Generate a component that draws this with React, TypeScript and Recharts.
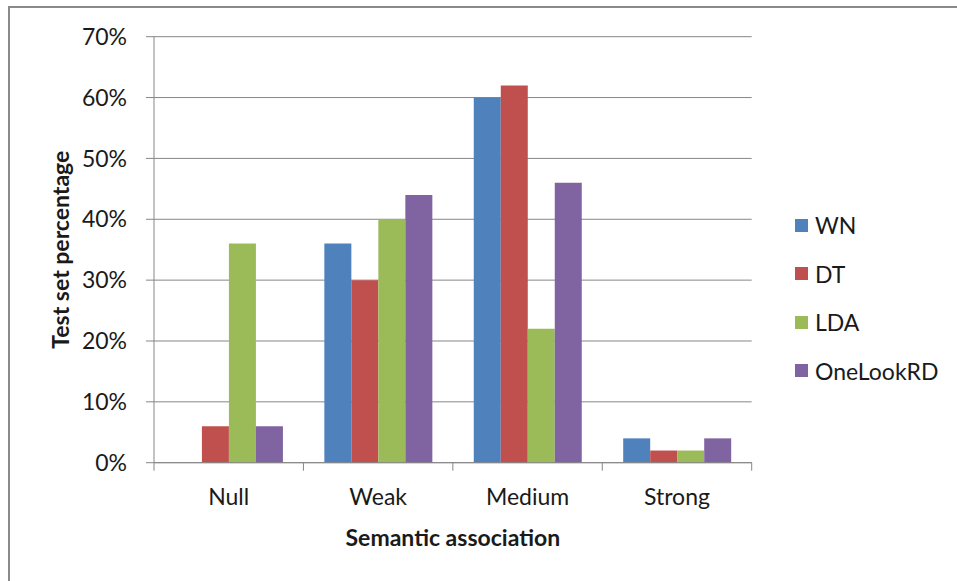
import React from 'react';
import { BarChart, Bar, XAxis, YAxis, CartesianGrid, Legend, Label } from 'recharts';

const categories = ['Null', 'Weak', 'Medium', 'Strong'];
const wnValues = [0, 36, 60, 4];
const dtValues = [6, 30, 62, 2];
const ldaValues = [36, 40, 22, 2];
const oneLookValues = [6, 44, 46, 4];
const yTicks = [0, 10, 20, 30, 40, 50, 60, 70];
const seriesNames = ['WN', 'DT', 'LDA', 'OneLookRD'];
const seriesColors = ['#4F81BD', '#C0504D', '#9BBB59', '#8064A2'];
const xTitle = 'Semantic association';
const yTitle = 'Test set percentage';

const data = categories.map((c, i) => ({
  category: c,
  WN: wnValues[i],
  DT: dtValues[i],
  LDA: ldaValues[i],
  OneLookRD: oneLookValues[i],
}));

const W = 957;
const H = 581;
const PLOT_LEFT = 154;
const PLOT_RIGHT = 751.7;
const PLOT_TOP = 36.7;
const PLOT_BOTTOM = 462.7;
const XAXIS_H = 60;
const BAND = (PLOT_RIGHT - PLOT_LEFT) / categories.length;
const FONT = "Lato, 'Open Sans', sans-serif";
const TEXT = '#1a1a1a';
const AXIS = '#878787';
const FS = 23;

const XTick = (props: any) => {
  const { x, y, payload } = props;
  const left = x - BAND / 2;
  const isLast = payload.value === categories[categories.length - 1];
  return (
    <g>
      <line x1={left} x2={left} y1={y} y2={y + 8} stroke={AXIS} />
      {isLast && <line x1={x + BAND / 2} x2={x + BAND / 2} y1={y} y2={y + 8} stroke={AXIS} />}
      <text x={x} y={y + 26} dy="0.71em" textAnchor="middle" fontSize={FS} fill={TEXT} fontFamily={FONT}>
        {payload.value}
      </text>
    </g>
  );
};

const YTitle = (props: any) => {
  const vb = props.viewBox || { x: 0, y: PLOT_TOP, width: PLOT_LEFT, height: PLOT_BOTTOM - PLOT_TOP };
  const cx = vb.x + 60.5;
  const cy = vb.y + vb.height / 2;
  return (
    <text
      x={cx}
      y={cy}
      dy="0.36em"
      textAnchor="middle"
      transform={`rotate(-90 ${cx} ${cy})`}
      fontSize={FS}
      fontWeight="bold"
      fill={TEXT}
      fontFamily={FONT}
    >
      {yTitle}
    </text>
  );
};

const XTitle = (props: any) => {
  const vb = props.viewBox || { x: PLOT_LEFT, y: PLOT_BOTTOM, width: PLOT_RIGHT - PLOT_LEFT, height: XAXIS_H };
  const cx = vb.x + vb.width / 2;
  return (
    <text x={cx} y={vb.y + 75.3} dy="0.36em" textAnchor="middle" fontSize={FS} fontWeight="bold" fill={TEXT} fontFamily={FONT}>
      {xTitle}
    </text>
  );
};

const renderLegend = () => (
  <div style={{ fontFamily: FONT }}>
    {seriesNames.map((n, i) => (
      <div key={n} style={{ display: 'flex', alignItems: 'center', height: 48.5 }}>
        <span style={{ display: 'inline-block', width: 13, height: 13, background: seriesColors[i], marginRight: 7 }} />
        <span style={{ fontSize: FS, color: TEXT, lineHeight: '28px' }}>{n}</span>
      </div>
    ))}
  </div>
);

export default function App() {
  return (
    <div style={{ position: 'absolute', left: 0, top: 0, width: W, height: H, overflow: 'hidden', background: '#fff' }}>
      <div
        style={{
          position: 'absolute',
          left: 8,
          top: 6,
          width: 1200,
          height: 1200,
          borderTop: '2px solid #8a8a8a',
          borderLeft: '2px solid #8a8a8a',
        }}
      />
      <div style={{ position: 'absolute', left: 0, top: 0 }}>
        <BarChart
          width={W}
          height={H}
          data={data}
          margin={{ top: PLOT_TOP, right: W - PLOT_RIGHT, bottom: H - PLOT_BOTTOM - XAXIS_H, left: 0 }}
          barCategoryGap="14%"
          barGap={0}
        >
          <CartesianGrid horizontal={true} vertical={false} stroke={AXIS} strokeWidth={1} />
          <XAxis
            dataKey="category"
            height={XAXIS_H}
            axisLine={{ stroke: AXIS }}
            tickLine={false}
            tickSize={0}
            tickMargin={0}
            tick={<XTick />}
            interval={0}
          >
            <Label content={<XTitle />} />
          </XAxis>
          <YAxis
            width={PLOT_LEFT}
            domain={[0, 70]}
            ticks={yTicks}
            interval={0}
            tickFormatter={(v: number) => `${v}%`}
            axisLine={{ stroke: AXIS }}
            tickLine={{ stroke: AXIS }}
            tickSize={8}
            tickMargin={19}
            tick={{ fill: TEXT, fontSize: FS, fontFamily: FONT }}
          >
            <Label content={<YTitle />} />
          </YAxis>
          <Legend
            layout="vertical"
            align="center"
            verticalAlign="middle"
            content={renderLegend}
            wrapperStyle={{ position: 'absolute', left: 795, top: 201, width: 160 }}
          />
          {seriesNames.map((n, i) => (
            <Bar key={n} dataKey={n} fill={seriesColors[i]} isAnimationActive={false} />
          ))}
        </BarChart>
      </div>
    </div>
  );
}
